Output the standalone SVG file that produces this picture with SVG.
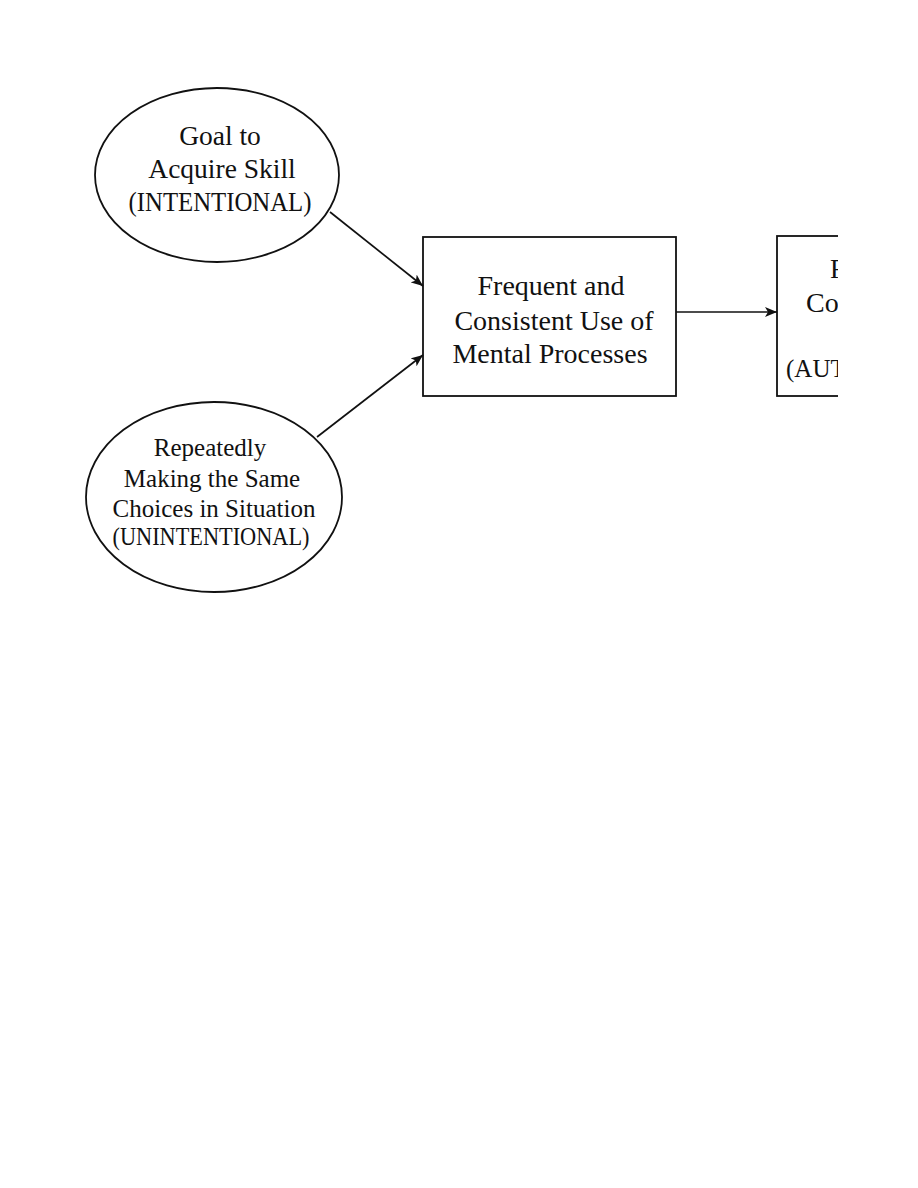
<svg xmlns="http://www.w3.org/2000/svg" width="918" height="1188" viewBox="0 0 918 1188">
<style>
.shape{fill:#fff;stroke:#111;stroke-width:1.8}
.t{font-family:"Liberation Serif","Times New Roman",serif;fill:#111;text-anchor:middle}
.conn{stroke:#111;stroke-width:1.7;fill:none;marker-end:url(#ah)}
</style>
<defs>
<marker id="ah" viewBox="0 0 12 10" refX="12" refY="5" markerWidth="12" markerHeight="10" markerUnits="userSpaceOnUse" orient="auto">
<path d="M0,0 L12,5 L0,10 L3,5 Z" fill="#111"/>
</marker>
<clipPath id="cut"><rect x="0" y="0" width="838" height="1188"/></clipPath>
</defs>
<rect width="918" height="1188" fill="#fff"/>
<g id="goal">
<ellipse class="shape" cx="217" cy="175" rx="122" ry="87"/>
<text class="t" font-size="27.5" x="220" y="145">Goal to</text>
<text class="t" font-size="27.5" x="222" y="178">Acquire Skill</text>
<text class="t" font-size="27" x="220" y="211" textLength="183" lengthAdjust="spacingAndGlyphs">(INTENTIONAL)</text>
</g>
<g id="repeat">
<ellipse class="shape" cx="214" cy="497" rx="128" ry="95"/>
<text class="t" font-size="25" x="210" y="456">Repeatedly</text>
<text class="t" font-size="25" x="212" y="487">Making the Same</text>
<text class="t" font-size="25" x="214" y="517">Choices in Situation</text>
<text class="t" font-size="25" x="211" y="545" textLength="197" lengthAdjust="spacingAndGlyphs">(UNINTENTIONAL)</text>
</g>
<g id="frequent">
<rect class="shape" x="423" y="237" width="253" height="159"/>
<text class="t" font-size="28" x="551" y="295">Frequent and</text>
<text class="t" font-size="28" x="554" y="330">Consistent Use of</text>
<text class="t" font-size="28" x="550" y="363">Mental Processes</text>
</g>
<g id="auto" clip-path="url(#cut)">
<rect class="shape" x="777" y="236" width="120" height="160"/>
<text class="t" font-size="27" x="830" y="278" style="text-anchor:start">F</text>
<text class="t" font-size="28" x="806" y="312" style="text-anchor:start">Co</text>
<text class="t" font-size="25" x="786" y="377" style="text-anchor:start">(AUT</text>
</g>
<g id="connectors">
<line class="conn" x1="330" y1="212" x2="423" y2="286"/>
<line class="conn" x1="317" y1="437" x2="423" y2="355"/>
<line class="conn" x1="676" y1="312" x2="777" y2="312"/>
</g>
</svg>
